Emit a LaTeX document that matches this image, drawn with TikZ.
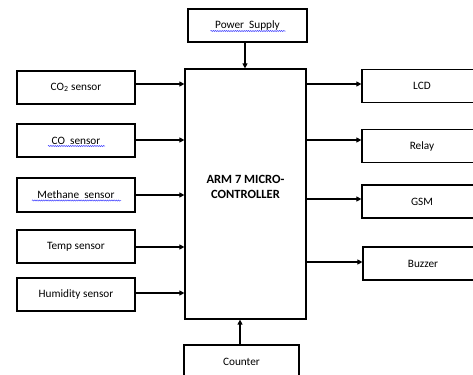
\documentclass[tikz,border=0pt]{standalone}
\usepackage{fontspec}
\setmainfont{Carlito}
\usepackage{tikz}
\usetikzlibrary{arrows.meta,decorations.pathmorphing}
\tikzset{
  blk/.style={draw, line width=1.2bp, minimum width=118bp, minimum height=33bp, inner sep=0pt, font=\fontsize{11.3}{13}\selectfont},
  arr/.style={-{Triangle[length=5bp,width=5bp]}, line width=1.1bp},
  spell/.style={blue!75, line width=0.5bp, decorate, decoration={snake, segment length=2.2bp, amplitude=0.6bp}}
}

\begin{document}
\begin{tikzpicture}[x=1bp, y=-1bp]
        \useasboundingbox (0,0) rectangle (473,374);
        \node[blk, minimum width=121bp, minimum height=250bp] (mcu) at (245.5,194) {};
        \node[font=\fontsize{12.6}{15}\selectfont\bfseries, align=center] (mcutxt) at (245.5,187) {ARM 7 MICRO-\\CONTROLLER};
        \node[blk, minimum width=119bp] (power) at (247.5,25.5) {Power\ \ Supply};
        \node[blk, minimum width=115bp] (counter) at (241.5,361.5) {Counter};
        \node[blk] (co2) at (76,87.5) {CO\textsubscript{2} sensor};
        \node[blk] (co) at (76,140.5) {CO\ \ sensor};
        \node[blk, minimum height=34bp] (methane) at (76,195) {Methane\ \ sensor};
        \node[blk] (temp) at (76,246.5) {Temp sensor};
        \node[blk] (humid) at (76,294.5) {Humidity sensor};
        \node[blk, minimum width=120bp] (lcd) at (422,86) {LCD};
        \node[blk, minimum width=120bp] (relay) at (422,146) {Relay};
        \node[blk, minimum width=120bp] (gsm) at (422,201.5) {GSM};
        \node[blk, minimum width=120bp] (buzzer) at (423,263.5) {Buzzer};
        \draw[arr] ([xshift=-2.5bp]power.south) -- ([xshift=-2.5bp]power.south |- mcu.north);
        \draw[arr] ([xshift=-1.5bp]counter.north) -- ([xshift=-1.5bp]counter.north |- mcu.south);
        \foreach \s/\dy in {co2/3.5, co/0.5, methane/0, temp/-0.5, humid/1.5}
          \draw[arr] ([yshift=\dy bp]\s.east) -- ([yshift=\dy bp]\s.east -| mcu.west);
        \foreach \o/\dy in {lcd/2, relay/6, gsm/2.5, buzzer/1.5}
          \draw[arr] ([yshift=\dy bp]\o.west -| mcu.east) -- ([yshift=\dy bp]\o.west);
        \draw[spell] ([shift={(-37,5.5)}]power.center) -- ++(75,0);
        \draw[spell] ([shift={(-28,5.5)}]co.center) -- ++(57,0);
        \draw[spell] ([shift={(-44,5.5)}]methane.center) -- ++(89,0);
\end{tikzpicture}
\end{document}
